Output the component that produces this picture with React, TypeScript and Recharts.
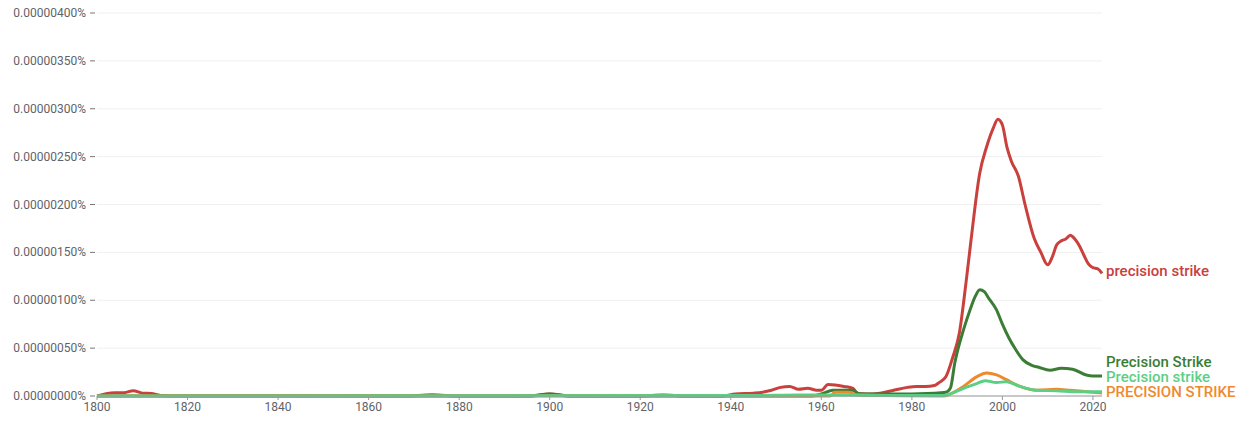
import React from "react";
import { LineChart, Line, XAxis, YAxis, CartesianGrid } from "recharts";

// values are in units of 0.00000001 %
const redYears = [1800, 1802, 1804, 1806, 1808, 1810, 1812, 1814, 1816, 1868, 1874, 1880, 1895, 1900, 1905, 1938, 1941, 1945, 1947, 1949, 1951, 1953, 1955, 1957, 1959, 1960, 1961.5, 1963, 1965, 1967, 1968, 1970, 1973, 1976, 1979, 1981, 1983, 1985, 1986, 1987.5, 1989, 1990.5, 1992, 1993, 1995, 1996.5, 1998, 1999, 2000, 2001, 2002, 2003.5, 2005, 2007, 2008.5, 2010, 2011, 2012, 2013, 2014, 2015, 2016, 2017, 2018, 2019, 2020, 2021, 2022];
const redValues = [0, 2.5, 3.5, 3.5, 5.5, 3, 2.5, 0.5, 0, 0, 1.2, 0, 0, 2, 0, 0, 2, 3, 4, 6, 9, 10, 7, 8, 6, 6, 12, 11.5, 10, 8, 2.5, 2, 3, 6, 9, 10, 10, 11, 14, 20, 40, 66, 120, 160, 233, 260, 280, 289, 283, 260, 245, 230, 200, 165, 150, 137, 145, 158, 162, 164, 168, 164, 157, 147, 138, 134, 133, 128];

const darkYears = [1800, 1896, 1900, 1904, 1920, 1925, 1930, 1958, 1960.5, 1962.5, 1967, 1968.5, 1975, 1985, 1987.5, 1988.5, 1989.5, 1991.4, 1993, 1994, 1995, 1996, 1997, 1998.7, 2000, 2001.5, 2003, 2004.5, 2006.5, 2008, 2010.5, 2013, 2015.5, 2018.5, 2020, 2022];
const darkValues = [0, 0, 2, 0, 0, 1, 0, 0, 3, 6, 6, 2, 2, 3, 4, 8, 35, 69, 92, 104, 111, 109, 102, 90, 75, 60, 48, 38, 32, 30, 27, 29, 28, 22, 21, 21];

const orangeYears = [1800, 1962, 1963, 1966, 1968, 1987, 1988.4, 1991.4, 1994.3, 1996.5, 1998.7, 2000.9, 2003.9, 2007.6, 2012, 2015, 2018.6, 2022];
const orangeValues = [0, 0, 4, 4, 1, 0, 2, 10, 20, 24, 22, 17, 10, 6, 7, 6, 4.5, 3];

const lightYears = [1800, 1945, 1955, 1960, 1975, 1987, 1988.4, 1991.4, 1994.3, 1996.2, 1998.7, 2000.9, 2003.9, 2007.6, 2012, 2016.5, 2022];
const lightValues = [0, 0.5, 1, 1, 0.5, 0.5, 2, 8, 13, 16, 14, 15, 10, 6, 5.5, 4.5, 4.5];

const xTicks = [1800, 1820, 1840, 1860, 1880, 1900, 1920, 1940, 1960, 1980, 2000, 2020];
const yTicks = [0, 50, 100, 150, 200, 250, 300, 350, 400];

const seriesNames = ["precision strike", "Precision Strike", "PRECISION STRIKE", "Precision strike"];
const seriesColors = ["#c9403d", "#3b7d35", "#ee8a2e", "#5ccf86"];
const labelOffsets = [-2, -13.5, -1.5, -14.7];

const build = (ys: number[], vs: number[]) => ys.map((y, i) => ({ year: y, v: vs[i] }));
const series = [
  build(redYears, redValues),
  build(darkYears, darkValues),
  build(orangeYears, orangeValues),
  build(lightYears, lightValues),
];

const fmt = (v: number) => (v / 1e8).toFixed(8) + "%";

const YTick = (props: any) => {
  const { x, y, payload } = props;
  return (
    <g>
      <line x1={x + 1} x2={x + 6} y1={y} y2={y} stroke="#777" strokeWidth={1} />
      <text x={x - 3} y={y} dy={4} textAnchor="end" fill="#5f6368" fontSize={12} fontFamily="Roboto">
        {fmt(payload.value)}
      </text>
    </g>
  );
};

const makeLabel = (si: number) => (props: any) => {
  const { x, y, index } = props;
  if (index !== series[si].length - 1) return null;
  return (
    <text
      key={"lbl" + si}
      x={x + 4}
      y={y + labelOffsets[si]}
      dy={5}
      fill={seriesColors[si]}
      fontSize={15}
      fontWeight={500}
      fontFamily="Roboto"
    >
      {seriesNames[si]}
    </text>
  );
};

export default function App() {
  return (
    <div style={{ fontFamily: "Roboto", marginTop: -8 }}>
      <LineChart width={1242} height={430} margin={{ top: 13, right: 148, left: 0, bottom: 4 }}>
        <CartesianGrid horizontal={true} vertical={false} stroke="#f0f0f0" />
        <XAxis
          dataKey="year"
          type="number"
          domain={[1800, 2022]}
          ticks={xTicks}
          allowDuplicatedCategory={false}
          tickSize={4}
          height={30}
          stroke="#9a9a9a"
          tick={{ fill: "#5f6368", fontSize: 12, fontFamily: "Roboto" }}
        />
        <YAxis
          type="number"
          domain={[0, 400]}
          ticks={yTicks}
          width={89}
          axisLine={false}
          tickLine={false}
          tick={<YTick />}
          interval={0}
        />
        {series.map((d, si) => (
          <Line
            key={si}
            data={d}
            dataKey="v"
            type="monotone"
            stroke={seriesColors[si]}
            strokeWidth={3}
            dot={false}
            activeDot={false}
            isAnimationActive={false}
            label={makeLabel(si)}
          />
        ))}
      </LineChart>
    </div>
  );
}
